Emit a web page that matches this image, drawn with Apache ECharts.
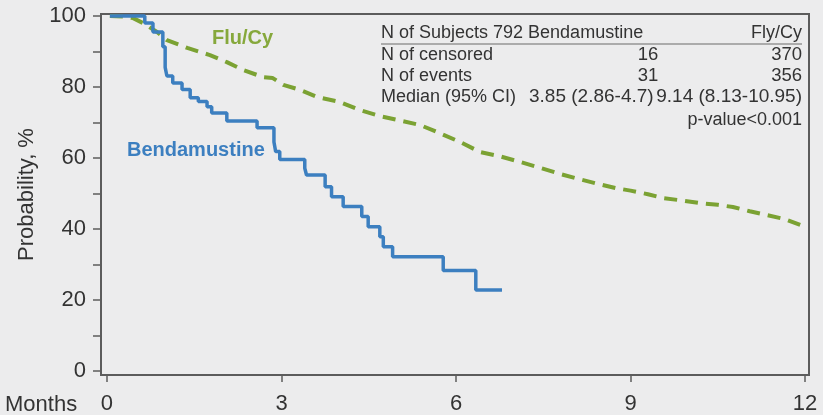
<!DOCTYPE html>
<html>
<head>
<meta charset="utf-8">
<script src="https://cdn.jsdelivr.net/npm/echarts@6/dist/echarts.min.js"></script>
<style>
  html, body { margin: 0; padding: 0; background: #ececed; }
  #chart { width: 823px; height: 415px; }
</style>
</head>
<body>
<div id="chart"></div>
<script>
// Kaplan-Meier estimates, months vs probability (%)
const bendaMonths = [0.05, 0.65, 0.79, 0.96, 1.0, 1.03, 1.13, 1.29, 1.43, 1.57, 1.72, 1.8, 2.06, 2.58, 2.87, 2.9, 2.97, 3.40, 3.43, 3.75, 3.86, 4.06, 4.38, 4.49, 4.69, 4.75, 4.91, 5.78, 6.34, 6.79];
const bendaProb   = [100, 98.0, 95.5, 91.3, 85.5, 83.1, 81.1, 79.3, 77.0, 75.9, 74.4, 72.7, 70.4, 68.5, 64.5, 61.8, 59.6, 57.1, 55.2, 51.9, 49.1, 46.3, 43.5, 40.6, 37.8, 35.0, 32.2, 28.3, 22.8, 22.8];

const fluMonths = [0.05, 0.3, 0.45, 0.62, 0.86, 1.03, 1.38, 1.77, 2.06, 2.34, 2.68, 2.85, 3.03, 3.32, 3.61, 4.0, 4.35, 4.69, 5.05, 5.38, 5.72, 6.07, 6.41, 6.75, 7.1, 7.45, 7.79, 8.13, 8.44, 8.75, 9.0, 9.3, 9.56, 9.9, 10.19, 10.5, 10.76, 11.05, 11.35, 11.65, 11.97];
const fluProb   = [100, 99.8, 99.4, 98.0, 95.5, 93.2, 91.0, 89.0, 87.0, 84.8, 82.8, 82.5, 80.6, 79.2, 77.2, 75.8, 73.5, 71.8, 70.5, 69.3, 67.0, 64.5, 61.7, 60.5, 58.9, 57.2, 55.5, 54.0, 52.7, 51.5, 50.8, 49.8, 48.7, 48.0, 47.3, 46.8, 46.2, 45.0, 43.9, 42.8, 40.8];

// Axis ticks
const xTicks = [0, 3, 6, 9, 12];
const yTicks = [0, 10, 20, 30, 40, 50, 60, 70, 80, 90, 100];
const yLabels = [0, 20, 40, 60, 80, 100];

// Summary table
const tableHeader = ['N of Subjects 792 Bendamustine', 'Fly/Cy'];
const tableRowNames = ['N of censored', 'N of events', 'Median (95% CI)'];
const bendaStats = ['16', '31', '3.85 (2.86-4.7)'];
const fluStats = ['370', '356', '9.14 (8.13-10.95)'];
const pValueText = 'p-value<0.001';

const FONT = '"Liberation Sans", Arial, sans-serif';
const TXT = '#333333';
const AX = '#5c5c5c';
const BLUE = '#3c7fc0';
const GREEN = '#7ba233';

const zip = (a, b) => a.map((v, i) => [v, b[i]]);

const chart = echarts.init(document.getElementById('chart'), null, { renderer: 'canvas' });

const rowY = [55, 76, 97];
const txt = (s, x, y, align, size) => ({
  type: 'text', x: x, y: y,
  style: { text: s, font: (size || 18) + 'px ' + FONT, fill: TXT, align: align, verticalAlign: 'middle' }
});

const table = [
  txt(tableHeader[0], 381, 33, 'left'),
  txt(tableHeader[1], 802, 33, 'right'),
  { type: 'line', shape: { x1: 381, y1: 44, x2: 802, y2: 44 }, style: { stroke: '#6a6a6a', lineWidth: 1.2 } },
];
tableRowNames.forEach((name, i) => {
  table.push(txt(name, 381, rowY[i], 'left'));
  if (i < 2) {
    table.push(txt(bendaStats[i], 648, rowY[i], 'center', 18.5));
    table.push(txt(fluStats[i], 802, rowY[i], 'right', 18.5));
  } else {
    table.push(txt(bendaStats[i], 529, rowY[i], 'left', 19));
    table.push(txt(fluStats[i], 802, rowY[i], 'right', 19));
  }
});
table.push(txt(pValueText, 802, 120, 'right'));

// Group names and x-axis caption
table.push({ type: 'text', x: 212, y: 38, style: { text: 'Flu/Cy', font: 'bold 20px ' + FONT, fill: '#86a83c', verticalAlign: 'middle' } });
table.push({ type: 'text', x: 127, y: 150, style: { text: 'Bendamustine', font: 'bold 20px ' + FONT, fill: BLUE, verticalAlign: 'middle' } });
table.push({ type: 'text', x: 5, y: 405, style: { text: 'Months', font: '22px ' + FONT, fill: TXT, verticalAlign: 'middle' } });

chart.setOption({
  backgroundColor: '#ececed',
  animation: false,
  grid: {
    left: 101, top: 14, width: 708, height: 361,
    show: true, borderColor: AX, borderWidth: 2, backgroundColor: 'transparent'
  },
  xAxis: {
    type: 'value', min: -0.103, max: 12.068,
    axisLine: { show: true, onZero: false, lineStyle: { color: AX, width: 2 } },
    axisTick: { show: true, inside: false, customValues: xTicks, length: 7, lineStyle: { color: AX, width: 1.5 } },
    axisLabel: { customValues: xTicks, color: TXT, fontSize: 22, fontFamily: FONT, margin: 18 },
    splitLine: { show: false }
  },
  yAxis: {
    type: 'value', min: -1.13, max: 100.56,
    name: 'Probability, %', nameLocation: 'middle', nameGap: 58,
    nameTextStyle: { color: TXT, fontSize: 22, fontFamily: FONT },
    axisLine: { show: true, onZero: false, lineStyle: { color: AX, width: 2 } },
    axisTick: { show: true, inside: false, customValues: yTicks, length: 8, lineStyle: { color: AX, width: 1.5 } },
    axisLabel: { customValues: yLabels, color: TXT, fontSize: 22, fontFamily: FONT, margin: 15 },
    splitLine: { show: false }
  },
  series: [
    {
      name: 'Flu/Cy', type: 'line', data: zip(fluMonths, fluProb),
      showSymbol: false, symbol: 'none',
      lineStyle: { color: GREEN, width: 4, type: [13, 8], cap: 'butt' },
      z: 3
    },
    {
      name: 'Bendamustine', type: 'line', step: 'end', data: zip(bendaMonths, bendaProb),
      showSymbol: false, symbol: 'none',
      lineStyle: { color: BLUE, width: 3.5 },
      z: 4
    }
  ],
  graphic: table
});
</script>
</body>
</html>
